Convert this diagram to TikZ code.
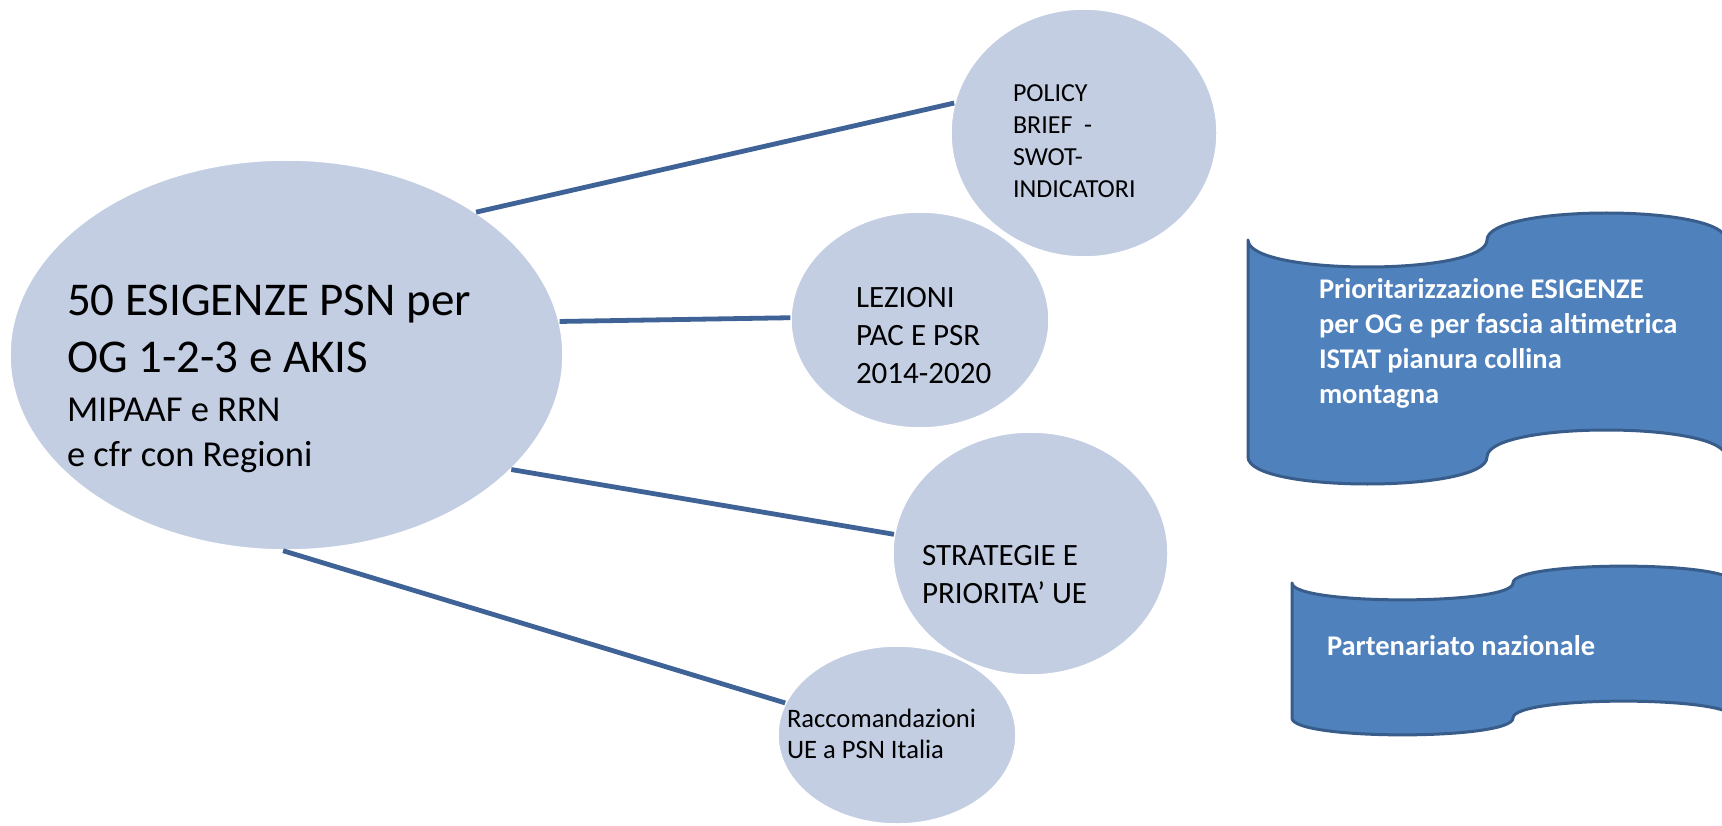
\documentclass[tikz,border=0pt]{standalone}
\usepackage{fontspec}
\setmainfont{Carlito}
\usetikzlibrary{shapes.geometric}
\definecolor{bubblefill}{RGB}{195,206,227}
\definecolor{connblue}{RGB}{63,99,150}
\definecolor{bannerfill}{RGB}{79,129,189}
\definecolor{bannerdraw}{RGB}{56,93,138}
\begin{document}
\begin{tikzpicture}[x=1pt,y=-1pt,
  bubble/.style={ellipse, fill=bubblefill, draw=white, line width=1.5pt, inner sep=0pt},
  conn/.style={draw=connblue, line width=4.8pt},
  txt/.style={anchor=base west, inner sep=0pt, outer sep=0pt, text=black},
  bannertxt/.style={anchor=base west, inner sep=0pt, outer sep=0pt, text=white},
  bannershape/.style={fill=bannerfill, draw=bannerdraw, line width=3pt, line join=round}]
\useasboundingbox (0,0) rectangle (1722,826);
\clip (0,0) rectangle (1722,826);
\fill[white] (0,0) rectangle (1722,826);

% bubbles
\node[bubble, minimum width=553pt, minimum height=390pt] (big) at (286.5,355) {};
\node[bubble, minimum width=266pt, minimum height=248pt] (policy) at (1084,133) {};
\node[bubble, minimum width=258pt, minimum height=216pt] (lez) at (920,320) {};
\node[bubble, minimum width=275pt, minimum height=243pt] (strat) at (1030.5,553.5) {};
\node[bubble, minimum width=238pt, minimum height=178pt] (racc) at (897,735) {};

% connectors
\draw[conn] (big.37.5) -- (policy.167);
\draw[conn] (big.7.6) -- (lez.179);
\draw[conn] (big.333.7) -- (strat.172.6);
\draw[conn] (big.269) -- (racc.164);

% texts in bubbles
\node[txt] (bigtext) at (67,316) {\vtop{\fontsize{47}{57}\selectfont
  \hbox{50 ESIGENZE PSN per}\hbox{OG 1-2-3 e AKIS}%
  \fontsize{36.5}{49}\selectfont\hbox{MIPAAF e RRN}%
  \fontsize{36.5}{45}\selectfont\hbox{e cfr con Regioni}}};
\node[txt] (policytext) at (1013,102) {\vtop{\fontsize{26}{31.7}\selectfont
  \hbox{POLICY}\hbox{BRIEF\ \ -}\hbox{SWOT-}\hbox{INDICATORI}}};
\node[txt] (leztext) at (856,308) {\vtop{\fontsize{31}{38}\selectfont
  \hbox{LEZIONI}\hbox{PAC E PSR}\hbox{2014-2020}}};
\node[txt] (strattext) at (922,565) {\vtop{\fontsize{31}{38}\selectfont
  \hbox{STRATEGIE E}\hbox{PRIORITA’ UE}}};
\node[txt] (racctext) at (787,727) {\vtop{\fontsize{26.6}{31.5}\selectfont
  \hbox{Raccomandazioni}\hbox{UE a PSN Italia}}};

% banner 1
\path[bannershape] (1248,240) .. controls (1248,276) and (1487,276) .. (1487,240)
  .. controls (1487,204) and (1726,204) .. (1726,240) -- (1726,457)
  .. controls (1726,421) and (1487,421) .. (1487,457)
  .. controls (1487,493) and (1248,493) .. (1248,457) -- cycle;
\node[bannertxt] (ban1text) at (1319,299) {\vtop{\fontsize{28.5}{34.8}\selectfont\bfseries
  \hbox{Prioritarizzazione ESIGENZE}\hbox{per OG e per fascia altimetrica}\hbox{ISTAT pianura collina}\hbox{montagna}}};

% banner 2
\path[bannershape] (1292,583) .. controls (1292,605.5) and (1513,605.5) .. (1513,583)
  .. controls (1513,560.5) and (1734,560.5) .. (1734,583) -- (1734,718)
  .. controls (1734,695.5) and (1513,695.5) .. (1513,718)
  .. controls (1513,740.5) and (1292,740.5) .. (1292,718) -- cycle;
\node[bannertxt] (ban2text) at (1327,655) {\fontsize{28.5}{34.8}\selectfont\bfseries Partenariato nazionale};
\end{tikzpicture}
\end{document}
